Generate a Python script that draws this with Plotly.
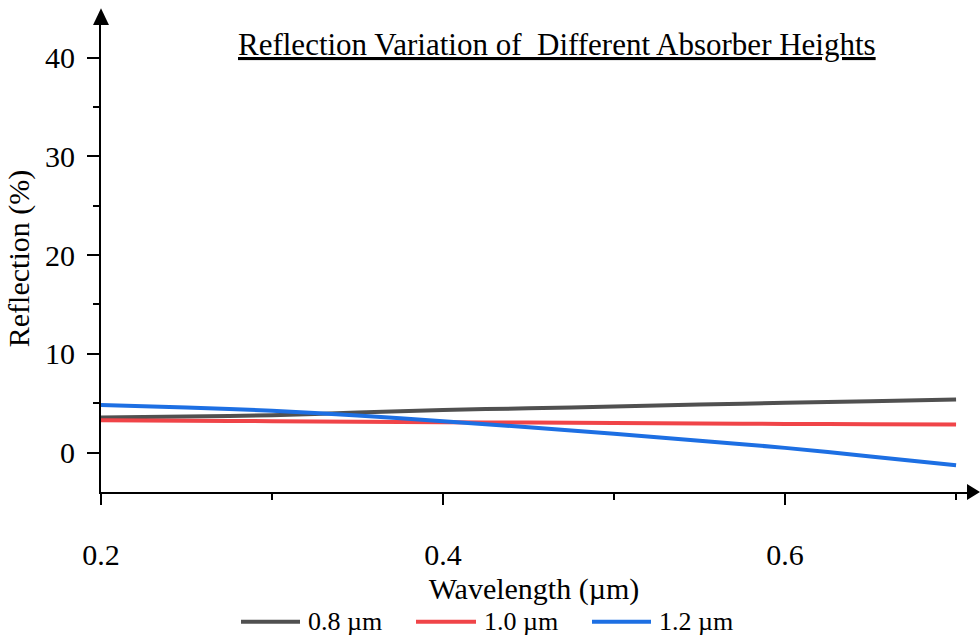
import plotly.graph_objects as go

# Wavelength samples (µm) and reflection (%) for each absorber height
wavelength = [0.20, 0.25, 0.30, 0.35, 0.40, 0.45, 0.50, 0.55, 0.60, 0.65, 0.70]
refl_08 = [3.55, 3.65, 3.78, 4.05, 4.30, 4.48, 4.65, 4.85, 5.03, 5.20, 5.37]
refl_10 = [3.27, 3.22, 3.17, 3.12, 3.07, 3.03, 3.00, 2.95, 2.90, 2.87, 2.83]
refl_12 = [4.80, 4.56, 4.24, 3.76, 3.17, 2.55, 1.90, 1.20, 0.47, -0.40, -1.28]

series_names = ["0.8 µm", "1.0 µm", "1.2 µm"]
series_colors = ["#505050", "#f04448", "#1d6fe3"]
series_values = [refl_08, refl_10, refl_12]

x_ticks = [0.2, 0.4, 0.6]
y_ticks = [0, 10, 20, 30, 40]

FONT = "Liberation Serif, Times New Roman, serif"

fig = go.Figure()
for name, color, vals in zip(series_names, series_colors, series_values):
    fig.add_trace(go.Scatter(x=wavelength, y=vals, mode="lines", name=name,
                             line=dict(color=color, width=4, shape="spline", smoothing=0.8),
                             showlegend=False))

axis_common = dict(showgrid=False, zeroline=False, showline=True, linecolor="black",
                   linewidth=2, ticks="outside", tickcolor="black", tickwidth=2,
                   tickfont=dict(family=FONT, size=30, color="black"),
                   title_font=dict(family=FONT, size=30, color="black"))

fig.update_layout(
    width=980, height=640,
    margin=dict(l=101, r=13, t=25, b=148),
    plot_bgcolor="white", paper_bgcolor="white",
    font=dict(family=FONT, size=26, color="black"),
    xaxis=dict(axis_common, range=[0.2, 0.7064], tickvals=x_ticks, ticklen=11,
               ticklabelstandoff=24,
               minor=dict(tickvals=[0.3, 0.5, 0.7], ticklen=6, tickwidth=2,
                          tickcolor="black", ticks="outside"),
               title=dict(text="Wavelength (µm)", standoff=8)),
    yaxis=dict(axis_common, range=[-4, 43.3], tickvals=y_ticks, ticklen=12,
               ticklabelstandoff=6,
               minor=dict(tickvals=[5, 15, 25, 35], ticklen=6, tickwidth=2,
                          tickcolor="black", ticks="outside"),
               title=dict(text="Reflection (%)", standoff=7)),
)

# Arrowheads at the ends of both axes
fig.add_shape(type="path", xref="paper", yref="paper",
              path="M 0 1.036 L -0.0092 1.0 L 0.0092 1.0 Z",
              fillcolor="black", line=dict(color="black", width=0))
fig.add_shape(type="path", xref="paper", yref="paper",
              path="M 1.015 0 L 1.0 0.017 L 1.0 -0.017 Z",
              fillcolor="black", line=dict(color="black", width=0))

# Underlined chart title inside the plotting area
fig.add_annotation(xref="paper", yref="paper", x=0.5265, y=0.958,
                   text="<span style='text-decoration:underline'>Reflection Variation of  Different Absorber Heights</span>",
                   showarrow=False, font=dict(family=FONT, size=31, color="black"),
                   xanchor="center", yanchor="middle")

# Legend row below the axis title: swatch line plus label for each series
leg_y = -0.278
swatch_x = [(241, 300), (416, 476), (592, 651)]
for (x0, x1), name, color in zip(swatch_x, series_names, series_colors):
    px0 = (x0 - 101) / 866
    px1 = (x1 - 101) / 866
    fig.add_shape(type="line", xref="paper", yref="paper", x0=px0, x1=px1,
                  y0=leg_y, y1=leg_y, line=dict(color=color, width=4))
    fig.add_annotation(xref="paper", yref="paper", x=px1 + 6 / 866, y=leg_y,
                       text=name, showarrow=False, xanchor="left", yanchor="middle",
                       font=dict(family=FONT, size=26, color="black"))

fig.write_html("out.html")
